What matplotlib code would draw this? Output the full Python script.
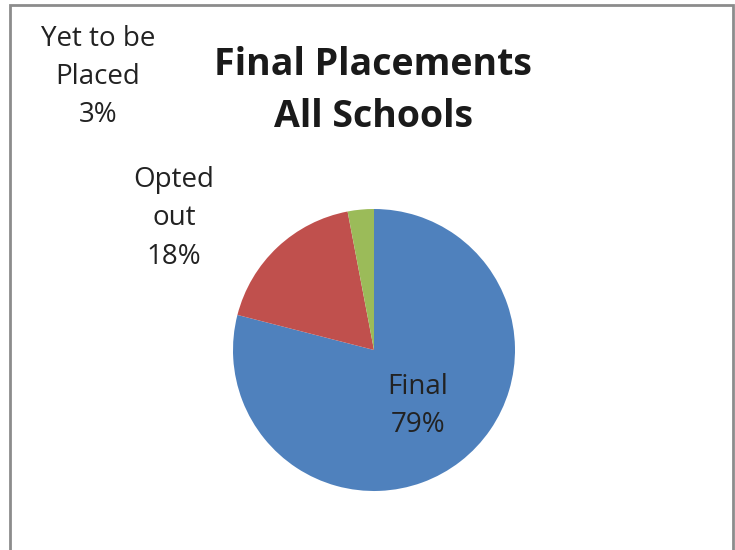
import matplotlib
matplotlib.use("Agg")
import matplotlib.pyplot as plt
from matplotlib.patches import Rectangle

categories = ["Final", "Opted\nout", "Yet to be\nPlaced"]
shares = [79, 18, 3]
colors = ["#4F81BD", "#C0504D", "#9BBB59"]

W, H = 735, 550
fig = plt.figure(figsize=(W / 100, H / 100), dpi=100)
fig.patch.set_facecolor("white")

# outer chart frame
fig.patches.append(Rectangle((10 / W, -0.01), (733 - 10) / W, 1 - 5 / H + 0.01,
                             transform=fig.transFigure, fill=False,
                             edgecolor="#8c8c8c", linewidth=2))

# pie centred at ~(374, 350) px, radius ~141 px
cx, cy, r = 374, 350, 141
ax = fig.add_axes([(cx - r) / W, (H - cy - r) / H, 2 * r / W, 2 * r / H])
ax.pie(shares, colors=colors, startangle=90, counterclock=False,
       wedgeprops=dict(linewidth=0))
ax.set_xlim(-1, 1)
ax.set_ylim(-1, 1)
ax.set_aspect("equal")
ax.axis("off")

font = "Open Sans"
fig.text(373 / W, 1 - 91 / H, "Final Placements\nAll Schools", ha="center", va="center",
         fontsize=27, fontweight="bold", family=font, linespacing=1.5, color="#1a1a1a")

# label positions in pixels
label_xy = [(418, 406), (174, 218), (98, 77)]
for (x, y), name, val in zip(label_xy, categories, shares):
    fig.text(x / W, 1 - y / H, f"{name}\n{val}%", ha="center", va="center",
             fontsize=20, family=font, linespacing=1.5, color="#222222")

fig.savefig("out.png", dpi=100)
